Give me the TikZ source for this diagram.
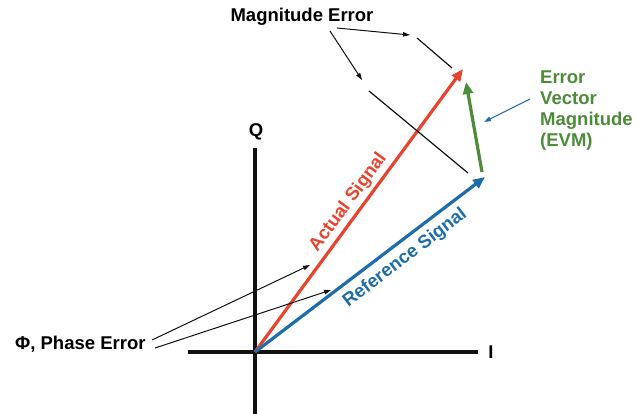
\documentclass[tikz,border=0pt]{standalone}
\usepackage{fontspec}
\setmainfont{Liberation Sans}
\usetikzlibrary{arrows.meta}
\definecolor{ink}{HTML}{111111}
\definecolor{actred}{HTML}{E8432C}
\definecolor{refblue}{HTML}{1D6DAA}
\definecolor{evmgreen}{HTML}{4C8B37}
\tikzset{
  lbl/.style={font=\fontsize{18.5}{21}\selectfont\bfseries, inner sep=0pt},
  axis/.style={ink, line width=3.2pt},
  vec/.style={line width=3.2pt, -{Triangle[length=12pt,width=10pt]}},
  pointer/.style={ink, line width=1pt, -{Triangle[length=7pt,width=4.5pt]}},
  guide/.style={ink, line width=1.2pt}
}

\begin{document}
\begin{tikzpicture}[x=1pt, y=-1pt, line cap=butt]
\useasboundingbox (0,0) rectangle (639,414);

% ================= axes =================
\coordinate (O) at (255,352);
\coordinate (qtop) at (255,148);
\coordinate (qbot) at (255,414);
\coordinate (ileft) at (188,352);
\coordinate (iright) at (478,352);
\draw[axis] (qbot) -- (qtop);
\draw[axis] (ileft) -- (iright);
\node[lbl] (Q) at (256,132) {Q};
\node[lbl] (I) at (491,352) {I};

% ================= signal vectors =================
\coordinate (acttip) at (463,69);
\coordinate (reftip) at (485,177);
\draw[vec, actred] (O) -- (acttip)
  node[pos=.5, sloped, above=3pt, lbl, text=actred] (actlbl) {Actual Signal};
\draw[vec, refblue] (O) -- (reftip)
  node[pos=.61, sloped, below=6pt, lbl, text=refblue] (reflbl) {Reference Signal};

% error vector, from the reference tip up to the actual tip
\coordinate (evmfrom) at (482,172);
\coordinate (evmto) at (466,82);
\draw[vec, evmgreen] (evmfrom) -- (evmto);

% ================= magnitude error guides =================
\coordinate (ga1) at (417,38);
\coordinate (ga2) at (452,68);
\coordinate (gb1) at (369,91);
\coordinate (gb2) at (468,173);
\draw[guide] (ga1) -- (ga2);
\draw[guide] (gb1) -- (gb2);

% ================= labels with pointers =================
\node[lbl] (magerr) at (302,17) {Magnitude Error};
\coordinate (ms1) at (337,28);
\coordinate (ms2) at (330,31);
\coordinate (mtop) at (410,35);
\coordinate (mlow) at (362,80);
\draw[pointer] (ms1) -- (mtop);
\draw[pointer] (ms2) -- (mlow);

\node[lbl, anchor=west] (phaserr) at (15,344) {Φ, Phase Error};
\coordinate (ps1) at (152,340);
\coordinate (ps2) at (155,348);
\coordinate (pact) at (310,265);
\coordinate (pref) at (331,290);
\draw[pointer] (ps1) -- (pact);
\draw[pointer] (ps2) -- (pref);

\node[lbl, text=evmgreen, anchor=north west, align=left] (evm) at (540,71)
  {Error\\Vector\\Magnitude\\(EVM)};
\coordinate (es) at (530,99);
\coordinate (evmpt) at (484,122);
\draw[refblue, line width=1pt, -{Triangle[length=7pt,width=4.5pt]}] (es) -- (evmpt);

\end{tikzpicture}
\end{document}
